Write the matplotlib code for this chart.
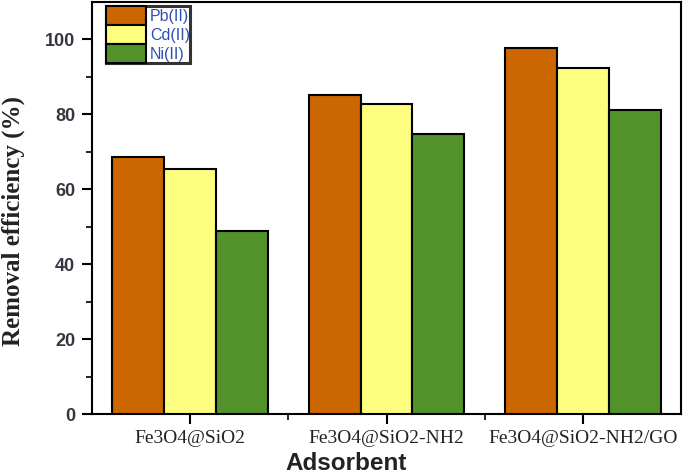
import matplotlib
matplotlib.use("Agg")
import matplotlib.pyplot as plt
import numpy as np

categories = ["Fe3O4@SiO2", "Fe3O4@SiO2-NH2", "Fe3O4@SiO2-NH2/GO"]
series_names = ["Pb(II)", "Cd(II)", "Ni(II)"]
pb_values = [68.7, 85.1, 97.7]
cd_values = [65.4, 82.7, 92.4]
ni_values = [48.8, 74.7, 81.3]
colors = ["#CC6600", "#FDFD80", "#52922A"]

fig = plt.figure(figsize=(6.85, 4.76), dpi=100)
ax = fig.add_axes([92/685, 1-414.3/476, (681-92)/685, (414.3-2)/476])

x = np.arange(1, len(categories) + 1)
width = 0.264
for i, (vals, name, c) in enumerate(zip([pb_values, cd_values, ni_values], series_names, colors)):
    ax.bar(x + (i - 1) * width, vals, width, color=c, edgecolor="black",
           linewidth=1.5, label=name, zorder=3)

ax.set_xlim(0.5, 3.5)
ax.set_ylim(0, 110)
ax.set_xticks(x)
ax.set_xticklabels(categories, family="Liberation Serif", fontsize=14, color="#222222")
ax.set_xticks([1.5, 2.5], minor=True)
ax.set_yticks([0, 20, 40, 60, 80, 100])
ax.set_yticks([10, 30, 50, 70, 90], minor=True)
for lab in ax.get_yticklabels():
    lab.set_family("Liberation Sans")
    lab.set_fontweight("bold")
    lab.set_fontsize(13)
    lab.set_color("#3a3340")
ax.tick_params(axis="both", which="major", direction="out", length=7, width=1.5)
ax.tick_params(axis="both", which="minor", direction="out", length=4, width=1.2)
ax.tick_params(axis="x", pad=4)
ax.tick_params(axis="y", pad=5)
for s in ax.spines.values():
    s.set_linewidth(1.5)

ax.set_ylabel("Removal efficiency (%)", family="Liberation Serif", fontweight="bold",
              fontsize=18, color="#222222")
ax.yaxis.set_label_coords(-0.114, 0.469)
fig.text(346/685, 1-463/476, "Adsorbent", family="Liberation Sans", fontweight="bold",
         fontsize=17.5, color="#222222", ha="center", va="center")

leg = ax.legend(loc="upper left", bbox_to_anchor=(106/685, 1-6/476),
                bbox_transform=fig.transFigure, frameon=True, fancybox=False,
                borderpad=0.0, labelspacing=0.0, handlelength=2.5, handleheight=1.45,
                handletextpad=0.25, borderaxespad=0,
                prop={"family": "Liberation Sans", "size": 11.5})
leg.get_frame().set_edgecolor("black")
leg.get_frame().set_linewidth(2.2)
for t in leg.get_texts():
    t.set_color("#3050b0")
for h in leg.legend_handles:
    h.set_linewidth(1.5)

fig.savefig("out.png", dpi=100)
